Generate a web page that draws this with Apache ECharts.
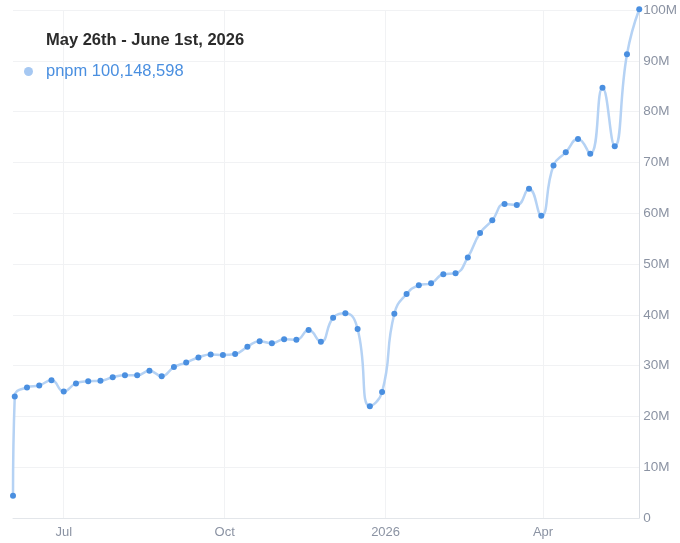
<!DOCTYPE html>
<html>
<head>
<meta charset="utf-8">
<script src="https://cdn.jsdelivr.net/npm/echarts@6/dist/echarts.min.js"></script>
<style>
html,body{margin:0;padding:0;background:#fff;}
#chart{width:680px;height:543px;}
</style>
</head>
<body>
<div id="chart"></div>
<script>
var seriesName = 'pnpm';
var periodTitle = 'May 26th - June 1st, 2026';
var latestLabel = '100,148,598';

var dates = ['2025-06-02','2025-06-03','2025-06-10','2025-06-17','2025-06-24','2025-07-01','2025-07-08','2025-07-15','2025-07-22','2025-07-29',
'2025-08-05','2025-08-12','2025-08-19','2025-08-26','2025-09-02','2025-09-09','2025-09-16','2025-09-23','2025-09-30','2025-10-07',
'2025-10-14','2025-10-21','2025-10-28','2025-11-04','2025-11-11','2025-11-18','2025-11-25','2025-12-02','2025-12-09','2025-12-16',
'2025-12-23','2025-12-30','2026-01-06','2026-01-13','2026-01-20','2026-01-27','2026-02-03','2026-02-10','2026-02-17','2026-02-24',
'2026-03-03','2026-03-10','2026-03-17','2026-03-24','2026-03-31','2026-04-07','2026-04-14','2026-04-21','2026-04-28','2026-05-05',
'2026-05-12','2026-05-19','2026-05-26'];

var downloads = [4400000,23900000,25700000,26100000,27100000,24900000,26500000,26900000,27000000,27700000,
28100000,28100000,29000000,27900000,29700000,30600000,31600000,32200000,32100000,32300000,
33700000,34800000,34400000,35200000,35100000,37000000,34700000,39400000,40300000,37200000,
22000000,24800000,40200000,44100000,45800000,46200000,48000000,48200000,51300000,56100000,
58600000,61800000,61600000,64800000,59500000,69400000,72000000,74600000,71700000,84700000,
73200000,91300000,100148598];

var tickDates = ['2025-07-01','2025-10-01','2026-01-01','2026-04-01'];
var tickLabels = ['Jul','Oct','2026','Apr'];

function ts(s){ var p = s.split('-'); return Date.UTC(+p[0], +p[1]-1, +p[2]); }

var tickTs = tickDates.map(ts);
var labelMap = {};
tickTs.forEach(function(t,i){ labelMap[t] = tickLabels[i]; });

var data = dates.map(function(d,i){ return [ts(d), downloads[i]]; });

var chart = echarts.init(document.getElementById('chart'));
chart.setOption({
  animation: false,
  textStyle: { fontFamily: '"Liberation Sans", Arial, Helvetica, sans-serif' },
  title: {
    text: periodTitle,
    left: 41, top: 27,
    textStyle: { fontSize: 16.5, fontWeight: 'bold', color: '#2b2b2b', fontFamily: '"Liberation Sans", Arial, sans-serif' }
  },
  legend: {
    left: 19, top: 58,
    icon: 'circle',
    itemWidth: 9, itemHeight: 9,
    itemGap: 10,
    data: [{ name: seriesName, itemStyle: { color: '#a6c8f2' } }],
    formatter: function(n){ return n + ' ' + latestLabel; },
    textStyle: { fontSize: 16.5, color: '#4a8fe0', fontFamily: '"Liberation Sans", Arial, sans-serif', padding: [0,0,0,8] }
  },
  grid: { left: 13, right: 37, top: 10, bottom: 25, containLabel: false },
  xAxis: {
    type: 'value',
    min: ts(dates[0]),
    max: ts(dates[dates.length-1]),
    axisLine: { show: true, lineStyle: { color: '#e3e6ea' } },
    axisTick: { show: false, customValues: tickTs },
    axisLabel: {
      customValues: tickTs,
      color: '#8b93a3', fontSize: 13, margin: 8,
      formatter: function(v){ return labelMap[v] || ''; }
    },
    splitLine: { show: true, lineStyle: { color: '#f1f2f4', width: 1 } }
  },
  yAxis: {
    type: 'value',
    position: 'right',
    min: 0, max: 100000000, interval: 10000000,
    axisLine: { show: true, lineStyle: { color: '#d9dde3' } },
    axisTick: { show: false },
    axisLabel: {
      color: '#8b93a3', fontSize: 13.5, margin: 4,
      formatter: function(v){ return v === 0 ? '0' : (v/1000000) + 'M'; }
    },
    splitLine: { show: true, lineStyle: { color: '#f1f2f4', width: 1 } }
  },
  series: [{
    name: seriesName,
    type: 'line',
    data: data,
    smooth: 0.5,
    symbol: 'circle',
    symbolSize: 6,
    showSymbol: true,
    clip: false,
    lineStyle: { color: '#b5d2f4', width: 2.5 },
    itemStyle: { color: '#4a8fe0', borderWidth: 0 }
  }]
});
</script>
</body>
</html>
